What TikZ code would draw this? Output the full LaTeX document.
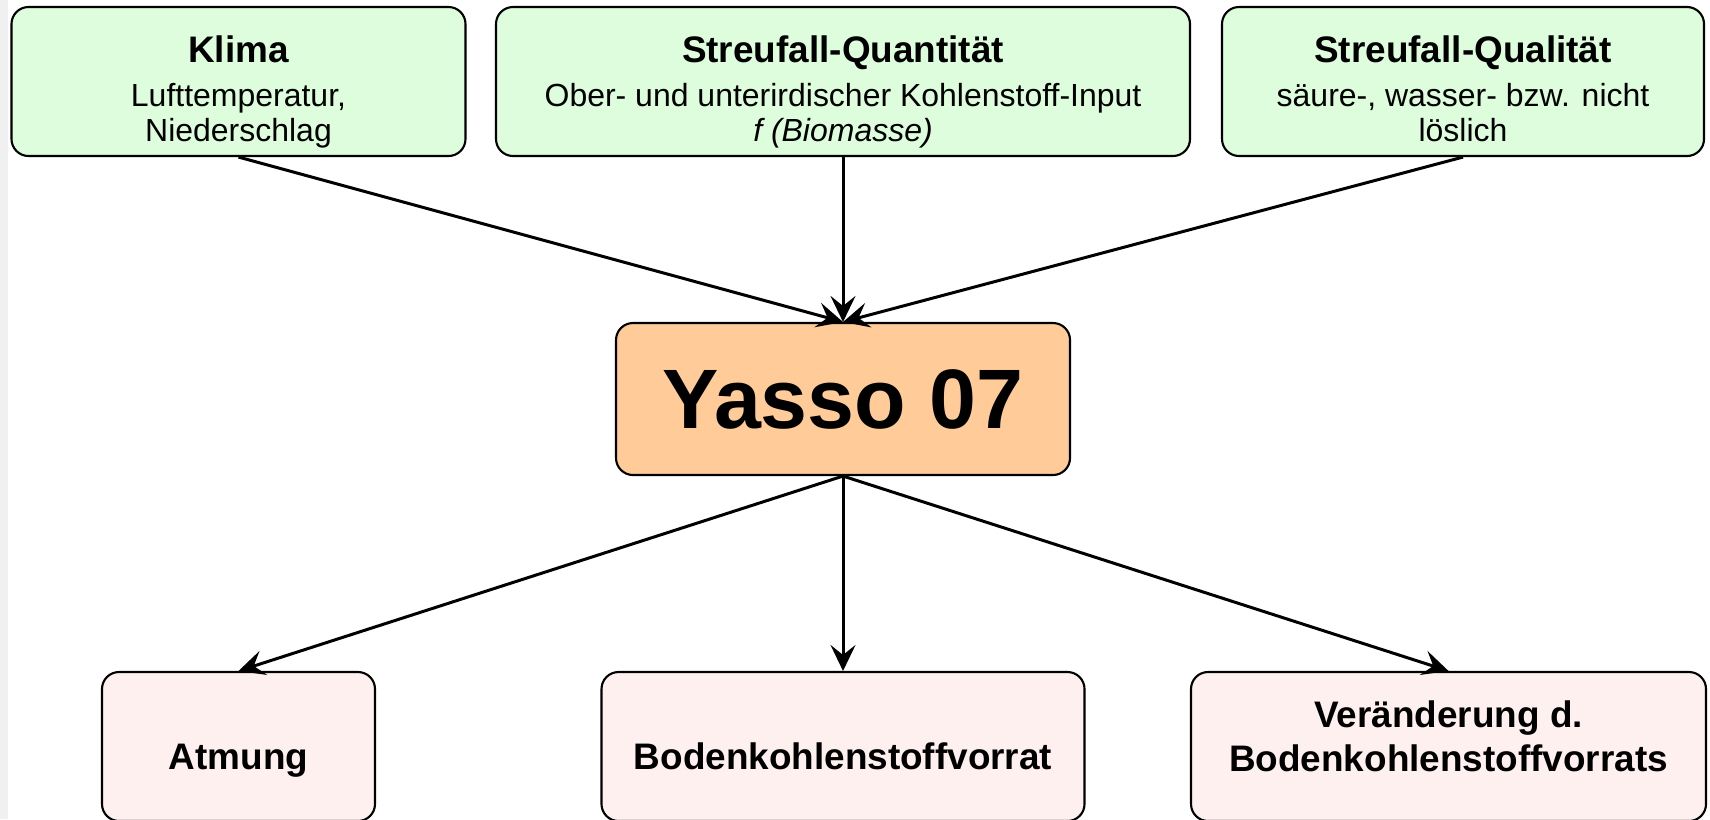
\documentclass[tikz,border=0pt]{standalone}
\usepackage{fontspec}
\setmainfont{Liberation Sans}
\usetikzlibrary{arrows.meta}
\definecolor{inputgreen}{RGB}{221,253,221}
\definecolor{modelorange}{RGB}{255,204,153}
\definecolor{outputpink}{RGB}{255,240,240}

\begin{document}
\begin{tikzpicture}[
      box/.style={draw,line width=0.6pt,rounded corners=0.17cm,align=center,inner sep=0pt},
      inbox/.style={box,fill=inputgreen,minimum height=1.49cm,font=\fontsize{9.1}{9.7}\selectfont},
      outbox/.style={box,fill=outputpink,minimum height=1.49cm,font=\bfseries\fontsize{10.5}{12.4}\selectfont},
      oneline/.style={outbox,text height=0.55cm,text depth=0.1cm},
      flow/.style={-{Stealth[length=0.26cm,width=0.25cm,inset=0.1cm]},line width=0.85pt}
    ]
      \useasboundingbox (0,0) rectangle (17.1,-8.19);
      \fill[gray!12] (0,0) rectangle (0.08,-8.19);
      \node[inbox,minimum width=4.54cm] (klima) at (2.385,-0.815)
        {\rule{0pt}{13.9pt}{\bfseries\fontsize{10.5}{9.7}\selectfont Klima}\\[3.1pt]
         Lufttemperatur,\\Niederschlag\rule[-2.5pt]{0pt}{2.5pt}};
      \node[inbox,minimum width=6.94cm] (quant) at (8.43,-0.815)
        {\rule{0pt}{13.9pt}{\bfseries\fontsize{10.5}{9.7}\selectfont Streufall-Quantität}\\[3.1pt]
         Ober- und unterirdischer Kohlenstoff-Input\\\textit{f (Biomasse)}\rule[-2.5pt]{0pt}{2.5pt}};
      \node[inbox,minimum width=4.82cm] (qual) at (14.63,-0.815)
        {\rule{0pt}{13.9pt}{\bfseries\fontsize{10.5}{9.7}\selectfont Streufall-Qualität}\\[3.1pt]
         säure-, wasser- bzw. nicht\\löslich\rule[-2.5pt]{0pt}{2.5pt}};
      \node[box,fill=modelorange,minimum width=4.54cm,minimum height=1.52cm,
        font=\bfseries\fontsize{24}{26}\selectfont] (yasso) at (8.43,-3.99) {Yasso 07};
      \node[oneline,minimum width=2.73cm] (atmung) at (2.385,-7.465) {Atmung};
      \node[oneline,minimum width=4.83cm] (vorrat) at (8.43,-7.465) {Bodenkohlenstoffvorrat};
      \node[outbox,minimum width=5.15cm] (delta) at (14.485,-7.465)
        {Veränderung d.\\Bodenkohlenstoffvorrats\rule[-5.8pt]{0pt}{5.8pt}};
      \draw[flow] (klima.south)--(yasso.north);
      \draw[flow] (quant.south)--(yasso.north);
      \draw[flow] (qual.south)--(yasso.north);
      \draw[flow] (yasso.south)--(atmung.north);
      \draw[flow] (yasso.south)--(vorrat.north);
      \draw[flow] (yasso.south)--(delta.north);
    \end{tikzpicture}
\end{document}
